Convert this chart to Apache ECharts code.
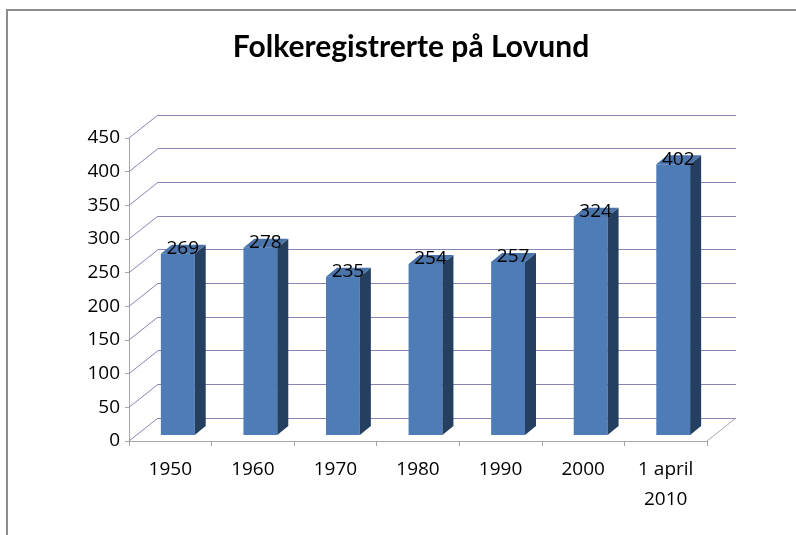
<!DOCTYPE html>
<html>
<head>
<meta charset="utf-8">
<script src="https://cdn.jsdelivr.net/npm/echarts@6/dist/echarts.min.js"></script>
<style>
  html, body { margin: 0; padding: 0; background: #fff; }
  #chart { width: 796px; height: 535px; }
</style>
</head>
<body>
<div id="chart"></div>
<script>
const categories = ["1950", "1960", "1970", "1980", "1990", "2000", "1 april\n2010"];
const population = [269, 278, 235, 254, 257, 324, 402];
const yTicks = [0, 50, 100, 150, 200, 250, 300, 350, 400, 450];

// pseudo 3d: back wall offset, bar front offset and bar depth
const DX = 29, DY = -23;
const OX = 7.5, OY = -6;
const SX = 11, SY = -9;

const GRID_LINE = "#8585b8";
const AXIS_GRAY = "#a6a6a6";
const FRONT = "#4e7cb6";
const TOP = "#4a74aa";
const SIDE = "#243f5f";
const FONT = "Open Sans";

const chart = echarts.init(document.getElementById("chart"), null, { renderer: "canvas" });

function wallLines(params, api) {
  const v = api.value(1);
  const p = api.coord([0, v]);
  const band = api.size([1, 0])[0];
  const x0 = p[0] - band / 2;
  const children = [{
    type: "line",
    shape: { x1: x0, y1: p[1], x2: x0 + DX, y2: p[1] + DY },
    style: { stroke: GRID_LINE, lineWidth: 1 }
  }];
  if (v === 0) {
    const q = api.coord([categories.length - 1, 0]);
    const x1 = q[0] + band / 2;
    children.push({
      type: "line",
      shape: { x1: x1, y1: q[1], x2: x1 + DX, y2: q[1] + DY },
      style: { stroke: AXIS_GRAY, lineWidth: 1 }
    });
  }
  return { type: "group", children: children };
}

function bar3d(params, api) {
  const i = api.value(0);
  const v = api.value(1);
  const top = api.coord([i, v]);
  const base = api.coord([i, 0]);
  const w = api.size([1, 0])[0] * 0.41;
  const xl = top[0] + OX - w / 2;
  const xr = xl + w;
  const yt = top[1] + OY;
  const yb = base[1] + OY;
  return {
    type: "group",
    children: [
      { type: "rect", shape: { x: xl, y: yt, width: w, height: yb - yt }, style: { fill: FRONT } },
      { type: "polygon", shape: { points: [[xr, yt], [xr + SX, yt + SY], [xr + SX, yb + SY], [xr, yb]] }, style: { fill: SIDE } },
      { type: "polygon", shape: { points: [[xl, yt], [xl + SX, yt + SY], [xr + SX, yt + SY], [xr, yt]] }, style: { fill: TOP } },
      {
        type: "text",
        style: {
          text: String(v), x: top[0] + OX + 5, y: yt - 5,
          align: "center", verticalAlign: "middle",
          fill: "#000", font: "19px '" + FONT + "'"
        }
      }
    ]
  };
}

chart.setOption({
  animation: false,
  title: {
    text: "Folkeregistrerte på Lovund",
    left: 406, top: 27, textAlign: "center",
    textStyle: { fontFamily: "Lato", fontWeight: "bold", fontSize: 30, color: "#000" }
  },
  graphic: [{
    type: "rect", silent: true,
    shape: { x: 7, y: 10, width: 900, height: 900 },
    style: { fill: "none", stroke: "#8c8c8c", lineWidth: 2 }
  }],
  grid: [
    { left: 129, right: 89, top: 138, bottom: 94 },
    { left: 129 + DX, right: 89 - DX, top: 138 + DY, bottom: 94 - DY }
  ],
  xAxis: [
    {
      type: "category", gridIndex: 0, data: categories,
      axisLine: { lineStyle: { color: AXIS_GRAY } },
      axisTick: { show: true, length: 5, lineStyle: { color: AXIS_GRAY } },
      axisLabel: { color: "#000", fontFamily: FONT, fontSize: 19, lineHeight: 30, margin: 14, interval: 0 }
    },
    {
      type: "category", gridIndex: 1, data: categories,
      axisLine: { show: false }, axisTick: { show: false }, axisLabel: { show: false }
    }
  ],
  yAxis: [
    {
      type: "value", gridIndex: 0, min: 0, max: 450, interval: 50,
      axisLine: { show: true, lineStyle: { color: AXIS_GRAY } },
      axisTick: { show: true, length: 4, lineStyle: { color: AXIS_GRAY } },
      axisLabel: { color: "#000", fontFamily: FONT, fontSize: 19, margin: 9 },
      splitLine: { show: false }
    },
    {
      type: "value", gridIndex: 1, min: 0, max: 450, interval: 50,
      axisLine: { show: false }, axisTick: { show: false }, axisLabel: { show: false },
      splitLine: { show: true, lineStyle: { color: GRID_LINE, width: 1 } }
    }
  ],
  series: [
    {
      type: "custom", xAxisIndex: 0, yAxisIndex: 0, clip: false, z: 1,
      renderItem: wallLines,
      data: yTicks.map((v) => [0, v])
    },
    {
      type: "custom", xAxisIndex: 0, yAxisIndex: 0, clip: false, z: 3,
      renderItem: bar3d,
      data: population.map((v, i) => [i, v])
    }
  ]
});
</script>
</body>
</html>
